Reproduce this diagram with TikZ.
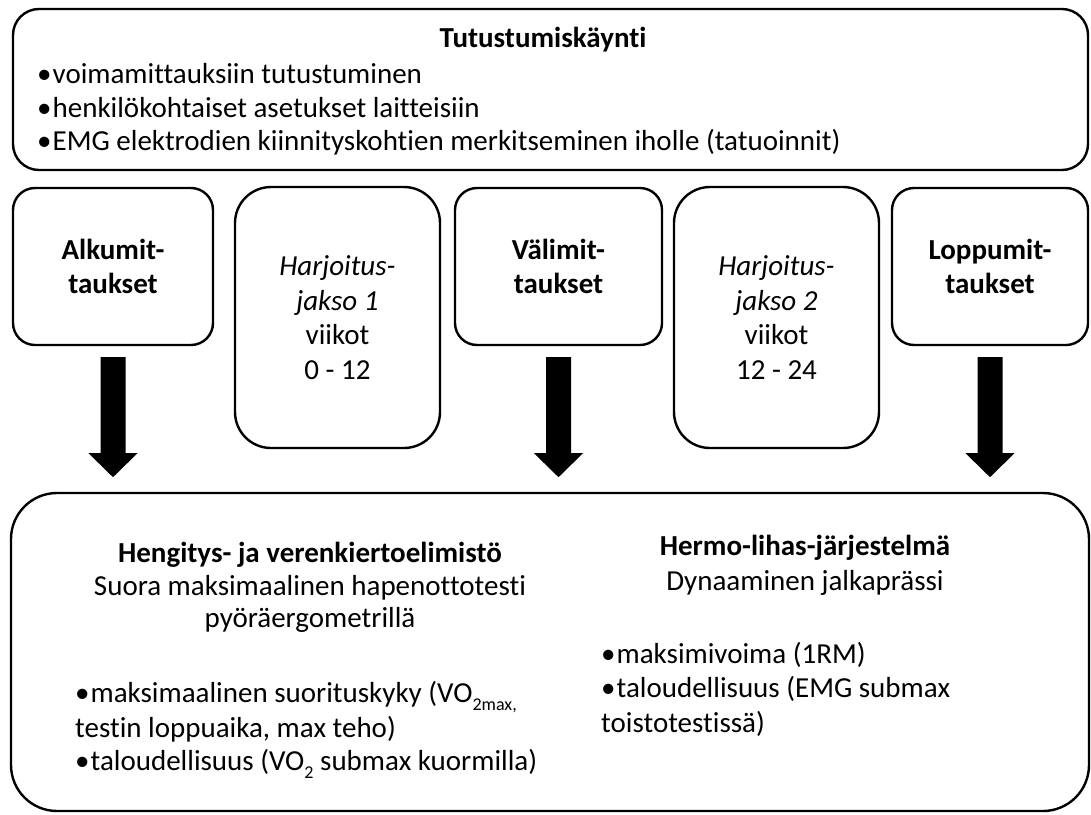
\documentclass[tikz,border=0pt]{standalone}
\usepackage{fontspec}
\setmainfont{Carlito}[Ligatures=NoCommon]
\usetikzlibrary{calc}
\newcommand\basefont{\fontsize{29}{34.5}\selectfont}
\newcommand\lowsub[1]{\raisebox{-0.28em}{\fontsize{18}{18}\selectfont #1}}
\newcommand\fatarrow[1]{%
  \fill ($(#1.south)+(-12.5,11)$) -- ++(25,0) -- ++(0,96) -- ++(12,0)
    -- ($(#1.south)+(0,131)$) -- ($(#1.south)+(-24.5,107)$) -- ++(12,0) -- cycle;}
\begin{document}
\begin{tikzpicture}[x=1pt,y=-1pt,
  every node/.style={font=\basefont},
  box/.style={draw, line width=2.4pt, rounded corners=#1, inner sep=0pt, align=center},
  box/.default=22pt,
  lbl/.style={anchor=base},
  bul/.style={anchor=base west, inner sep=0pt},
  bold/.style={font=\basefont\bfseries}]
\useasboundingbox (0,0) rectangle (1091,814);

% top box
\node[box=26pt, minimum width=1075pt, minimum height=161pt] (intro) at (550.5,89.5) {};
\node[lbl, bold] (introtitle) at (543,47) {Tutustumiskäynti};
\node[bul] (i1) at (37,83) {•\kern1pt voimamittauksiin tutustuminen};
\node[bul] (i2) at (37,117) {•\kern1pt henkilökohtaiset asetukset laitteisiin};
\node[bul] (i3) at (37,150) {•\kern1pt EMG elektrodien kiinnityskohtien merkitseminen iholle (tatuoinnit)};

% row of boxes
\node[box=22pt, minimum width=200pt, minimum height=157pt, bold] (alk) at (113,266.5) {Alkumit-\\taukset};
\node[box=36pt, minimum width=205pt, minimum height=261pt] (h1) at (337.5,317.5) {\textit{Harjoitus-}\\\textit{jakso 1}\\viikot\\0 - 12};
\node[box=22pt, minimum width=207pt, minimum height=157pt, bold] (val) at (558.5,266.5) {Välimit-\\taukset};
\node[box=36pt, minimum width=205pt, minimum height=261pt] (h2) at (776.5,317.5) {\textit{Harjoitus-}\\\textit{jakso 2}\\viikot\\12 - 24};
\node[box=22pt, minimum width=196pt, minimum height=157pt, bold] (lop) at (990,266.5) {Loppumit-\\taukset};

% bottom box
\node[box=46pt, minimum width=1078pt, minimum height=318pt] (big) at (550,652) {};
\node[lbl, bold] (lt) at (310,562) {Hengitys- ja verenkiertoelimistö};
\node[lbl] (ls) at (310,595) {Suora maksimaalinen hapenottotesti};
\node[lbl] (lp) at (310,627) {pyöräergometrillä};
\node[bul] (lb1) at (75,702) {•\kern1pt maksimaalinen suorituskyky (VO\lowsub{2max,}};
\node[bul] (lb2) at (75,737) {testin loppuaika, max teho)};
\node[bul] (lb3) at (75,770) {•\kern1pt taloudellisuus (VO\lowsub{2} submax kuormilla)};
\node[lbl, bold] (rt) at (805,555) {Hermo-lihas-järjestelmä};
\node[lbl] (rs) at (805,590) {Dynaaminen jalkaprässi};
\node[bul] (rb1) at (601,663) {•\kern1pt maksimivoima (1RM)};
\node[bul] (rb2) at (601,697) {•\kern1pt taloudellisuus (EMG submax};
\node[bul] (rb3) at (601,732) {toistotestissä)};

% arrows
\fatarrow{alk}
\fatarrow{val}
\fatarrow{lop}
\end{tikzpicture}
\end{document}
